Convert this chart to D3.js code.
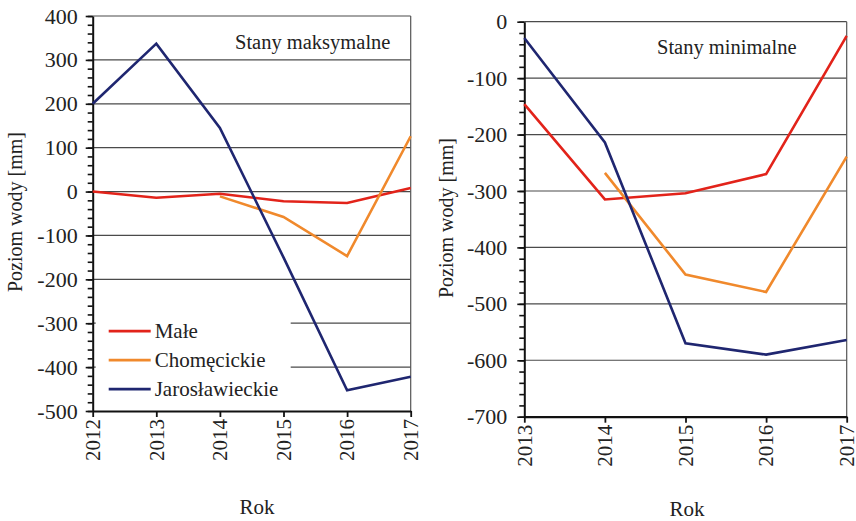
<!DOCTYPE html>
<html>
<head>
<meta charset="utf-8">
<script src="https://cdn.jsdelivr.net/npm/d3@7"></script>
<style>
  body { margin: 0; background: #fff; }
  svg text { font-family: "Liberation Serif", "DejaVu Serif", serif; fill: #222; }
</style>
</head>
<body>
<svg id="chart" width="856" height="521"></svg>
<script>
// dane
const seriesNames = ["Małe", "Chomęcickie", "Jarosławieckie"];
const seriesColors = ["#e2231a", "#f0892c", "#1f2670"];

const yearsMax = [2012, 2013, 2014, 2015, 2016, 2017];
const maxMale = [0, -14, -5, -22, -26, 8];
const maxChomecickie = [null, null, -11, -58, -147, 126];
const maxJaroslawieckie = [200, 337, 145, -150, -453, -422];
const ticksMax = [400, 300, 200, 100, 0, -100, -200, -300, -400, -500];

const yearsMin = [2013, 2014, 2015, 2016, 2017];
const minMale = [-146, -315, -304, -270, -25];
const minChomecickie = [null, -268, -448, -479, -239];
const minJaroslawieckie = [-29, -214, -570, -590, -564];
const ticksMin = [0, -100, -200, -300, -400, -500, -600, -700];

const svg = d3.select("#chart");

function drawPanel(cfg) {
    const g = svg.append("g");
    const x = d3.scaleLinear()
        .domain(d3.extent(cfg.years))
        .range([cfg.left, cfg.right]);
    const y = d3.scaleLinear()
        .domain([d3.min(cfg.ticks), d3.max(cfg.ticks)])
        .range([cfg.bottom, cfg.top]);

    // siatka
    g.append("g")
        .selectAll("line")
        .data(cfg.ticks.filter(t => t !== d3.min(cfg.ticks)))
        .join("line")
        .attr("x1", cfg.left).attr("x2", cfg.right)
        .attr("y1", d => y(d)).attr("y2", d => y(d))
        .attr("stroke", "#4a4a4a")
        .attr("stroke-width", 1.2);

    // prawa ramka
    g.append("line")
        .attr("x1", cfg.right).attr("x2", cfg.right)
        .attr("y1", cfg.top).attr("y2", cfg.bottom)
        .attr("stroke", "#555").attr("stroke-width", 1.2);

    // tlo legendy zaslania siatke
    if (cfg.legend) {
        g.append("rect")
            .attr("x", cfg.left + 3).attr("y", y(-250))
            .attr("width", 195).attr("height", y(-475) - y(-250))
            .attr("fill", "#fff");
    }

    // osie
    const minorTicks = d3.range(d3.min(cfg.ticks), d3.max(cfg.ticks) + 1, 20);
    g.append("g")
        .attr("transform", `translate(${cfg.left},0)`)
        .call(d3.axisLeft(y).tickValues(minorTicks).tickSize(5).tickFormat(""))
        .call(a => a.select(".domain").remove())
        .selectAll("line").attr("stroke", "#111").attr("stroke-width", 1.6);

    const axisY = g.append("g")
        .attr("transform", `translate(${cfg.left},0)`)
        .call(d3.axisLeft(y).tickValues(cfg.ticks).tickFormat(d => String(d))
            .tickSize(7).tickSizeOuter(0).tickPadding(cfg.tickPad));
    axisY.select(".domain").attr("stroke", "#111").attr("stroke-width", 2);
    axisY.selectAll("line").attr("stroke", "#111").attr("stroke-width", 1.6);
    axisY.selectAll("text")
        .attr("font-size", 22)
        .attr("fill", "#222");

    const axisX = g.append("g")
        .attr("transform", `translate(0,${cfg.bottom})`)
        .call(d3.axisBottom(x).tickValues(cfg.years).tickFormat(d3.format("d")).tickSize(6).tickSizeOuter(0));
    axisX.select(".domain").attr("stroke", "#111").attr("stroke-width", 2.2);
    axisX.selectAll("line").attr("stroke", "#111").attr("stroke-width", 1.8);
    axisX.selectAll("text")
        .attr("font-size", 21)
        .attr("fill", "#222")
        .attr("transform", "rotate(-90)")
        .attr("text-anchor", "end")
        .attr("x", -8).attr("y", 0).attr("dy", "0.32em");

    // linie serii
    const line = d3.line()
        .defined(d => d[1] !== null)
        .x(d => x(d[0]))
        .y(d => y(d[1]));
    cfg.series.forEach((vals, i) => {
        g.append("path")
            .datum(cfg.years.map((yr, k) => [yr, vals[k]]))
            .attr("fill", "none")
            .attr("stroke", seriesColors[i])
            .attr("stroke-width", 2.6)
            .attr("stroke-linejoin", "miter")
            .attr("d", line);
    });

    // podpisy
    g.append("text")
        .attr("x", cfg.titleX).attr("y", cfg.titleY)
        .attr("font-size", 20.5)
        .text(cfg.title);
    g.append("text")
        .attr("transform", `translate(${cfg.yLabelX},${cfg.yLabelY}) rotate(-90)`)
        .attr("text-anchor", "middle")
        .attr("font-size", 20)
        .text("Poziom wody [mm]");
    g.append("text")
        .attr("x", cfg.xLabelX).attr("y", cfg.xLabelY)
        .attr("text-anchor", "middle")
        .attr("font-size", 21)
        .text("Rok");

    if (cfg.legend) {
        const leg = g.append("g")
            .selectAll("g")
            .data(seriesNames)
            .join("g")
            .attr("transform", (d, i) => `translate(${cfg.left + 16},${y(-318) + i * 29})`);
        leg.append("line")
            .attr("x1", 0).attr("x2", 42)
            .attr("stroke", (d, i) => seriesColors[i])
            .attr("stroke-width", 2.6);
        leg.append("text")
            .attr("x", 46).attr("dy", "0.35em")
            .attr("font-size", 21)
            .text(d => d);
    }
}

drawPanel({
    years: yearsMax,
    series: [maxMale, maxChomecickie, maxJaroslawieckie],
    ticks: ticksMax,
    left: 92.7, right: 410.7, top: 16, bottom: 411,
    tickPad: 8,
    title: "Stany maksymalne", titleX: 235, titleY: 49,
    yLabelX: 22, yLabelY: 212,
    xLabelX: 257, xLabelY: 514,
    legend: true
});

drawPanel({
    years: yearsMin,
    series: [minMale, minChomecickie, minJaroslawieckie],
    ticks: ticksMin,
    left: 524.3, right: 846.7, top: 21.7, bottom: 416.7,
    tickPad: 10,
    title: "Stany minimalne", titleX: 657, titleY: 54,
    yLabelX: 453, yLabelY: 218,
    xLabelX: 687, xLabelY: 516,
    legend: false
});
</script>
</body>
</html>
